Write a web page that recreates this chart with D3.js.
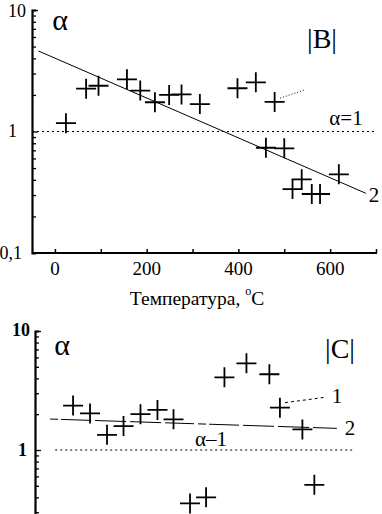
<!DOCTYPE html>
<html><head><meta charset="utf-8">
<script src="https://cdn.jsdelivr.net/npm/d3@7"></script>
<style>
html,body{margin:0;padding:0;background:#fff;}
svg{display:block;}
text{font-family:"Liberation Serif","Times New Roman",serif;fill:#000;}
</style></head>
<body>
<svg id="c" width="382" height="514"></svg>
<script>
// ---- data: panel |B| ----
const bTemp  = [24, 68, 95, 157, 186, 218, 249, 276, 316, 398, 438, 479, 460, 500, 518, 538, 560, 578, 619];
const bAlpha = [1.17, 2.25, 2.38, 2.69, 2.17, 1.74, 2.0, 2.02, 1.68, 2.27, 2.54, 1.75, 0.735, 0.727, 0.336, 0.404, 0.306, 0.306, 0.444];
const bFitTemp  = [-36, 678];
const bFitAlpha = [4.6, 0.31];
const bLeadTemp  = [491, 544];
const bLeadAlpha = [1.88, 2.2];
// ---- data: panel |C| ----
const cTemp  = [33, 70, 107, 143, 180, 217, 252, 288, 323, 363, 411, 461, 484, 533, 559];
const cAlpha = [2.36, 2.03, 1.34, 1.59, 2.0, 2.17, 1.81, 0.356, 0.40, 4.08, 5.35, 4.33, 2.27, 1.49, 0.51];
const cFitTemp  = [-17, 608];
const cFitAlpha = [1.82, 1.52];
const cLeadTemp  = [495, 582];
const cLeadAlpha = [2.5, 2.77];
// ---- axis labels ----
const xTickValues = [0, 200, 400, 600];
const xMinorTicks = [0, 100, 200, 300, 400, 500, 600, 700];
const yTickLabels = ["0,1", "1", "10"];
const xTitle = "Температура, ";
const refAlpha = 1;

const svg = d3.select("#c");

function cross(g, xs, ys, xa, ya) {
  g.selectAll("path.pt").data(xa.map((v, i) => [v, ya[i]])).join("path")
    .attr("class", "pt")
    .attr("d", d => { const x = xs(d[0]), y = ys(d[1]); return `M${x-10},${y}H${x+10}M${x},${y-10}V${y+10}`; })
    .attr("stroke", "#000").attr("stroke-width", 1.8).attr("fill", "none");
}
function logMinor() {
  const t = [];
  [0.1, 1].forEach(b => { for (let k = 2; k <= 9; k++) t.push(+(b * k).toFixed(2)); });
  return t;
}
function yAxis(g, ys) {
  g.append("g").call(d3.axisRight(ys).tickValues(logMinor()).tickSize(4).tickFormat(""))
    .call(a => a.selectAll("line").attr("stroke-width", 1.3))
    .call(a => a.select(".domain").attr("stroke-width", 2.2));
  g.append("g").call(d3.axisRight(ys).tickValues([1, 10]).tickSize(6).tickFormat(""))
    .call(a => a.select(".domain").remove())
    .call(a => a.selectAll("line").attr("stroke-width", 1.3));
}
const line = (xs, ys) => d3.line().x(d => xs(d[0])).y(d => ys(d[1]));

// ================= TOP PANEL =================
const xT = d3.scaleLinear().domain([-50, 700]).range([32, 376]);
const yT = d3.scaleLog().domain([0.1, 10]).range([253, 10]);
const topG = svg.append("g");

topG.append("g").attr("transform", `translate(0,${yT(0.1)})`)
  .call(d3.axisTop(xT).tickValues(xMinorTicks).tickSize(4).tickFormat(""))
  .call(a => a.select(".domain").attr("d", `M${xT(-50)},0H${xT(700)+1}`).attr("stroke-width", 2))
  .call(a => a.selectAll("line").attr("stroke-width", 1.5));
topG.append("g").attr("transform", `translate(${xT(-50)},0)`).call(g => yAxis(g, yT));

topG.selectAll("text.xt").data(xTickValues).join("text").attr("class", "xt")
  .attr("x", d => xT(d)).attr("y", 268).attr("text-anchor", "middle")
  .attr("dominant-baseline", "central").attr("font-size", 19).text(d => d);

const tAnchors = [22, 17, 26];
const tYs = [253, 131, 11];
topG.selectAll("text.yt").data(yTickLabels).join("text").attr("class", "yt")
  .attr("x", (d, i) => tAnchors[i]).attr("y", (d, i) => tYs[i]).attr("text-anchor", "end")
  .attr("dominant-baseline", "central").attr("font-size", 18).text(d => d);

const tt = topG.append("text").attr("x", 197).attr("y", 298).attr("text-anchor", "middle")
  .attr("dominant-baseline", "central").attr("font-size", 19.5);
tt.append("tspan").text(xTitle);
tt.append("tspan").attr("font-size", 12).attr("dy", -7).text("o");
tt.append("tspan").attr("dy", 7).text("C");

topG.append("path").attr("d", line(xT, yT)([[-50, refAlpha], [700, refAlpha]]))
  .attr("stroke", "#000").attr("stroke-dasharray", "2,3").attr("fill", "none");
topG.append("path").attr("d", line(xT, yT)(bFitTemp.map((v, i) => [v, bFitAlpha[i]])))
  .attr("stroke", "#000").attr("stroke-width", 1).attr("fill", "none");
topG.append("path").attr("d", line(xT, yT)(bLeadTemp.map((v, i) => [v, bLeadAlpha[i]])))
  .attr("stroke", "#000").attr("stroke-dasharray", "1,2").attr("fill", "none");
cross(topG, xT, yT, bTemp, bAlpha);

topG.append("text").attr("x", 60).attr("y", 19).attr("text-anchor", "middle")
  .attr("dominant-baseline", "central").attr("font-size", 30).text("α");
topG.append("text").attr("x", 322).attr("y", 38).attr("text-anchor", "middle")
  .attr("dominant-baseline", "central").attr("font-size", 28).text("|B|");
topG.append("text").attr("x", 346).attr("y", 118).attr("text-anchor", "middle")
  .attr("dominant-baseline", "central").attr("font-size", 21).text("α=1");
topG.append("text").attr("x", 374).attr("y", 195).attr("text-anchor", "middle")
  .attr("dominant-baseline", "central").attr("font-size", 21).text("2");

// ================= BOTTOM PANEL =================
const xB = d3.scaleLinear().domain([-50, 700]).range([35, 379]);
const yB = d3.scaleLog().domain([0.1, 10]).range([569, 331]);
const botG = svg.append("g");
botG.append("g").attr("transform", `translate(${xB(-50)},0)`).call(g => yAxis(g, yB));

botG.append("text").attr("x", 30).attr("y", 330).attr("text-anchor", "end").attr("font-weight", "bold")
  .attr("dominant-baseline", "central").attr("font-size", 18).text(yTickLabels[2]);
botG.append("text").attr("x", 27).attr("y", 450).attr("text-anchor", "end").attr("font-weight", "bold")
  .attr("dominant-baseline", "central").attr("font-size", 18).text(yTickLabels[1]);

botG.append("path").attr("d", line(xB, yB)([[-6, refAlpha], [643, refAlpha]]))
  .attr("stroke", "#000").attr("stroke-dasharray", "2,3").attr("fill", "none");
botG.append("path").attr("d", line(xB, yB)(cFitTemp.map((v, i) => [v, cFitAlpha[i]])))
  .attr("stroke", "#000").attr("stroke-width", 1).attr("stroke-dasharray", "8,3,30,4,31,4,31,4,29,4")
  .attr("fill", "none");
botG.append("path").attr("d", line(xB, yB)(cLeadTemp.map((v, i) => [v, cLeadAlpha[i]])))
  .attr("stroke", "#000").attr("stroke-dasharray", "3,3").attr("fill", "none");
cross(botG, xB, yB, cTemp, cAlpha);

botG.append("text").attr("x", 62).attr("y", 344).attr("text-anchor", "middle")
  .attr("dominant-baseline", "central").attr("font-size", 30).text("α");
botG.append("text").attr("x", 340).attr("y", 348).attr("text-anchor", "middle")
  .attr("dominant-baseline", "central").attr("font-size", 28).text("|C|");
botG.append("text").attr("x", 211).attr("y", 439).attr("text-anchor", "middle")
  .attr("dominant-baseline", "central").attr("font-size", 21).text("α–1");
botG.append("text").attr("x", 337).attr("y", 396).attr("text-anchor", "middle")
  .attr("dominant-baseline", "central").attr("font-size", 21).text("1");
botG.append("text").attr("x", 350).attr("y", 428).attr("text-anchor", "middle")
  .attr("dominant-baseline", "central").attr("font-size", 21).text("2");
</script>
</body></html>
